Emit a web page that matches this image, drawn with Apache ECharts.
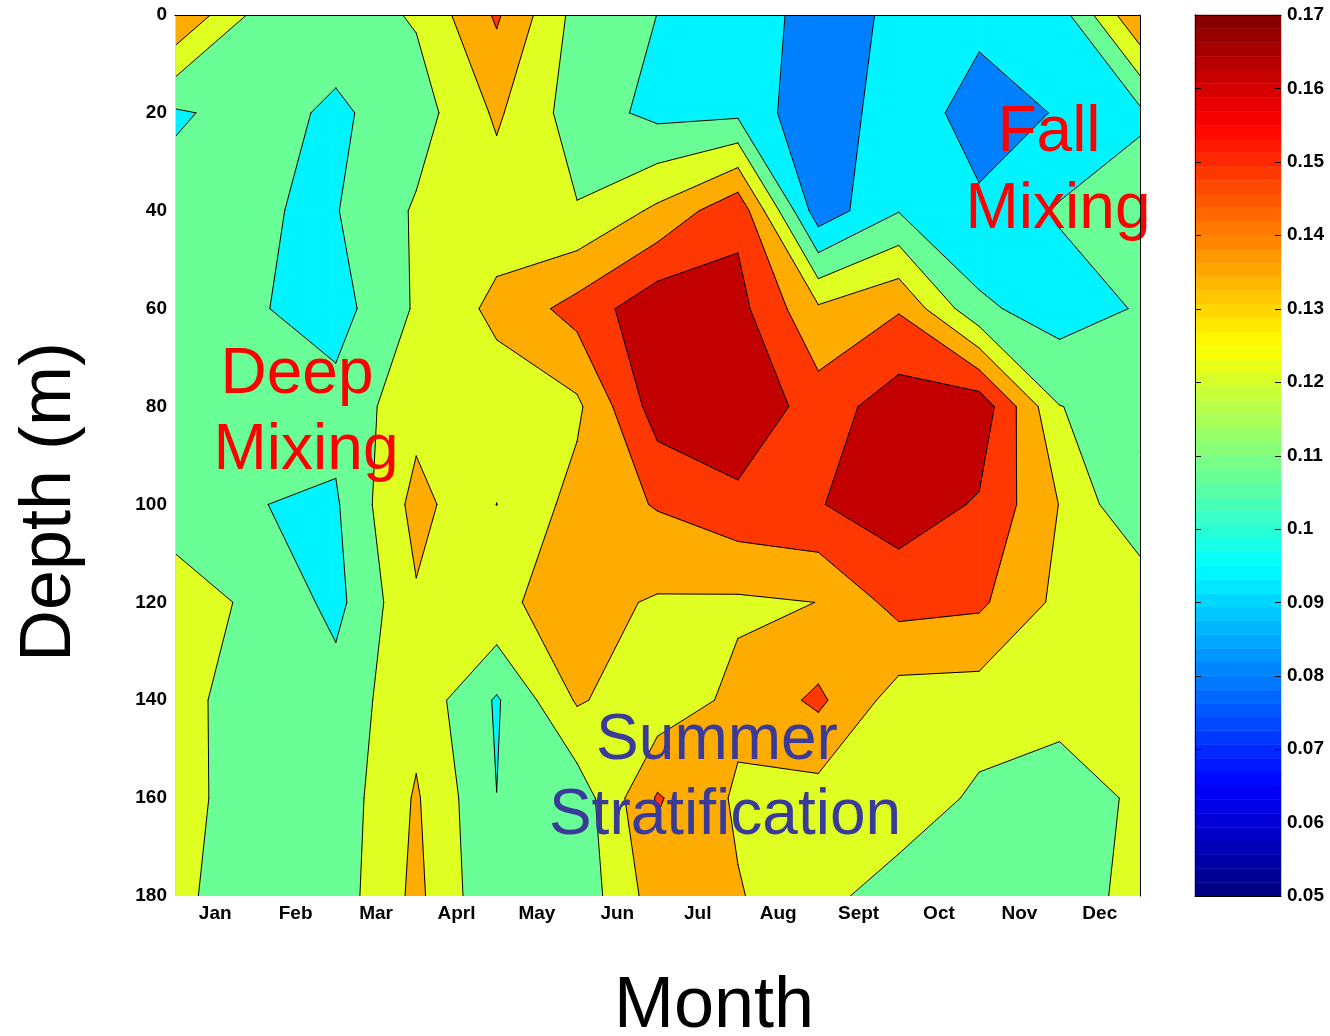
<!DOCTYPE html>
<html>
<head>
<meta charset="utf-8">
<script src="https://cdn.jsdelivr.net/npm/echarts@6/dist/echarts.min.js"></script>
<style>
  html, body { margin: 0; padding: 0; background: #ffffff; }
  #chart { width: 1330px; height: 1036px; }
</style>
</head>
<body>
<div id="chart"></div>
<script>
// Month tick labels (label sits in the middle of each month band)
const months = ['Jan', 'Feb', 'Mar', 'Aprl', 'May', 'Jun', 'Jul', 'Aug', 'Sept', 'Oct', 'Nov', 'Dec'];

// Sampling positions along the month axis and sampling depths (m)
const gridX = [0.5, 1.5, 2.5, 3.5, 4.5, 5.5, 6.5, 7.5, 8.5, 9.5, 10.5, 11.5, 12.5];
const depths = [0, 20, 40, 60, 80, 100, 120, 140, 160, 180];

// Measured values, one row per depth, one column per sampling position
const at0m   = [0.1482, 0.1177, 0.1141, 0.1225, 0.1504, 0.1163, 0.1073, 0.1019, 0.0879, 0.0962, 0.0978, 0.1012, 0.1482];
const at20m  = [0.1056, 0.1125, 0.1051, 0.1149, 0.1369, 0.1145, 0.1036, 0.1044, 0.0827, 0.1030, 0.0869, 0.0948, 0.1044];
const at40m  = [0.1129, 0.1078, 0.1067, 0.1227, 0.1278, 0.1219, 0.1375, 0.1588, 0.0853, 0.1068, 0.0964, 0.1088, 0.1169];
const at60m  = [0.1142, 0.1086, 0.1019, 0.1227, 0.1382, 0.1536, 0.1718, 0.1667, 0.1369, 0.1473, 0.1100, 0.1010, 0.1085];
const at80m  = [0.1142, 0.1115, 0.1118, 0.1299, 0.1275, 0.1321, 0.1691, 0.1745, 0.1551, 0.1695, 0.1717, 0.1214, 0.1156];
const at100m = [0.1170, 0.1077, 0.1058, 0.1396, 0.1210, 0.1397, 0.1496, 0.1581, 0.1615, 0.1696, 0.1608, 0.1344, 0.1077];
const at120m = [0.1252, 0.1195, 0.1033, 0.1332, 0.1327, 0.1393, 0.1334, 0.1327, 0.1349, 0.1534, 0.1510, 0.1314, 0.1330];
const at140m = [0.1280, 0.1112, 0.1133, 0.1303, 0.1059, 0.1363, 0.1260, 0.1384, 0.1512, 0.1285, 0.1280, 0.1266, 0.1307];
const at160m = [0.1280, 0.1116, 0.1129, 0.1363, 0.1075, 0.1127, 0.1499, 0.1327, 0.1293, 0.1293, 0.1186, 0.1136, 0.1237];
const at180m = [0.1252, 0.1111, 0.1138, 0.1382, 0.1088, 0.1115, 0.1417, 0.1358, 0.1252, 0.1149, 0.1142, 0.1142, 0.1255];
const field = [at0m, at20m, at40m, at60m, at80m, at100m, at120m, at140m, at160m, at180m];

// Contour levels and colour scale limits
const levels = [0.0937, 0.1074, 0.1211, 0.1348, 0.1485, 0.1622];
const lowestLevel = 0.08;
const colorMin = 0.05, colorMax = 0.17;
const barTicks = [0.05, 0.06, 0.07, 0.08, 0.09, 0.10, 0.11, 0.12, 0.13, 0.14, 0.15, 0.16, 0.17];

// Jet colour map
function jet(t) {
  const c = v => Math.max(0, Math.min(1, v));
  const r = c(1.5 - Math.abs(4 * t - 3));
  const g = c(1.5 - Math.abs(4 * t - 2));
  const b = c(1.5 - Math.abs(4 * t - 1));
  return 'rgb(' + Math.round(r * 255) + ',' + Math.round(g * 255) + ',' + Math.round(b * 255) + ')';
}
const toT = v => (v - colorMin) / (colorMax - colorMin);
const bandColors = [lowestLevel].concat(levels).map(v => jet(toT(v)));

// ---- marching squares helpers ----
function cellCorners(k, j) {
  return [
    { x: gridX[k],     y: depths[j],     v: field[j][k] },
    { x: gridX[k + 1], y: depths[j],     v: field[j][k + 1] },
    { x: gridX[k + 1], y: depths[j + 1], v: field[j + 1][k + 1] },
    { x: gridX[k],     y: depths[j + 1], v: field[j + 1][k] }
  ];
}
function cross(p, q, t) {
  const f = (t - p.v) / (q.v - p.v);
  return [p.x + f * (q.x - p.x), p.y + f * (q.y - p.y)];
}
// Region of one cell where the value is at or above t
function bandPolygons(k, j, t) {
  const c = cellCorners(k, j);
  const up = c.map(p => p.v >= t);
  const n = up.filter(Boolean).length;
  if (n === 0) return [];
  const center = (c[0].v + c[1].v + c[2].v + c[3].v) / 4;
  const saddle = n === 2 && up[0] === up[2];
  if (saddle && center < t) {
    const polys = [];
    for (let i = 0; i < 4; i++) {
      if (!up[i]) continue;
      const prev = c[(i + 3) % 4], next = c[(i + 1) % 4];
      polys.push([[c[i].x, c[i].y], cross(c[i], next, t), cross(prev, c[i], t)]);
    }
    return polys;
  }
  const pts = [];
  for (let i = 0; i < 4; i++) {
    const a = c[i], b = c[(i + 1) % 4];
    if (up[i]) pts.push([a.x, a.y]);
    if (up[i] !== up[(i + 1) % 4]) pts.push(cross(a, b, t));
  }
  return [pts];
}
// Contour segments of one cell for level t
function isoSegments(k, j, t) {
  const c = cellCorners(k, j);
  const up = c.map(p => p.v >= t);
  const edges = [];
  for (let i = 0; i < 4; i++) if (up[i] !== up[(i + 1) % 4]) edges.push(i);
  if (edges.length === 2) {
    return [[cross(c[edges[0]], c[(edges[0] + 1) % 4], t), cross(c[edges[1]], c[(edges[1] + 1) % 4], t)]];
  }
  if (edges.length === 4) {
    const cUp = (c[0].v + c[1].v + c[2].v + c[3].v) / 4 >= t;
    const segs = [];
    for (let i = 0; i < 4; i++) {
      if (up[i] === cUp) continue;
      segs.push([cross(c[i], c[(i + 1) % 4], t), cross(c[(i + 3) % 4], c[i], t)]);
    }
    return segs;
  }
  return [];
}

const cells = [];
for (let j = 0; j < depths.length - 1; j++) {
  for (let k = 0; k < gridX.length - 1; k++) cells.push([k, j]);
}

const bold = { fontFamily: 'Liberation Sans, Arial, sans-serif', fontWeight: 'bold', color: '#000' };

// Base fill, lowest band
const series = [{
  type: 'custom', coordinateSystem: 'cartesian2d', xAxisIndex: 0, yAxisIndex: 0,
  silent: true, z: 1, data: [[0, 0]],
  renderItem: (params, api) => {
    const a = api.coord([gridX[0], depths[0]]);
    const b = api.coord([gridX[gridX.length - 1], depths[depths.length - 1]]);
    return { type: 'rect', shape: { x: a[0], y: a[1], width: b[0] - a[0], height: b[1] - a[1] },
             style: { fill: bandColors[0] } };
  }
}];

// Filled bands, one series per level so higher bands sit on top
levels.forEach((t, i) => {
  const color = bandColors[i + 1];
  series.push({
    type: 'custom', coordinateSystem: 'cartesian2d', xAxisIndex: 0, yAxisIndex: 0,
    silent: true, clip: true, z: 1, data: cells,
    renderItem: (params, api) => {
      const polys = bandPolygons(api.value(0), api.value(1), t);
      return {
        type: 'group',
        children: polys.map(pts => ({
          type: 'polygon',
          shape: { points: pts.map(p => api.coord(p)) },
          style: { fill: color, stroke: color, lineWidth: 0.8 }
        }))
      };
    }
  });
});

// Contour lines
series.push({
  type: 'custom', coordinateSystem: 'cartesian2d', xAxisIndex: 0, yAxisIndex: 0,
  silent: true, clip: true, z: 2, data: cells,
  renderItem: (params, api) => {
    const children = [];
    levels.forEach(t => {
      isoSegments(api.value(0), api.value(1), t).forEach(seg => {
        children.push({
          type: 'polyline',
          shape: { points: seg.map(p => api.coord(p)) },
          style: { stroke: '#000', lineWidth: 1, fill: null, lineCap: 'round' }
        });
      });
    });
    return { type: 'group', children };
  }
});

// Colour bar: 64 steps of the jet map
const barSteps = [];
for (let i = 0; i < 64; i++) barSteps.push([i]);
series.push({
  type: 'custom', coordinateSystem: 'cartesian2d', xAxisIndex: 2, yAxisIndex: 2,
  silent: true, z: 1, data: barSteps,
  renderItem: (params, api) => {
    const i = api.value(0);
    const lo = colorMin + (colorMax - colorMin) * i / 64;
    const hi = colorMin + (colorMax - colorMin) * (i + 1) / 64;
    const a = api.coord([0, hi]);
    const b = api.coord([1, lo]);
    const col = jet((i + 0.5) / 64);
    return { type: 'rect', shape: { x: a[0], y: a[1], width: b[0] - a[0], height: b[1] - a[1] },
             style: { fill: col, stroke: col, lineWidth: 0.5 } };
  }
});

// Colour bar tick marks, pointing inward from both edges
series.push({
  type: 'custom', coordinateSystem: 'cartesian2d', xAxisIndex: 2, yAxisIndex: 2,
  silent: true, z: 3, data: barTicks.map(v => [0, v]),
  renderItem: (params, api) => {
    const l = api.coord([0, api.value(1)]);
    const r = api.coord([1, api.value(1)]);
    const y = Math.round(l[1]) + 0.5;
    return {
      type: 'group',
      children: [
        { type: 'line', shape: { x1: l[0], y1: y, x2: l[0] + 6, y2: y }, style: { stroke: '#000', lineWidth: 1 } },
        { type: 'line', shape: { x1: r[0] - 6, y1: y, x2: r[0], y2: y }, style: { stroke: '#000', lineWidth: 1 } }
      ]
    };
  }
});

const noSplit = { show: false };
const tickFont = 19;
const option = {
  animation: false,
  grid: [
    { left: 175, top: 15, width: 965, height: 881, show: false },
    { left: 1195, top: 15, width: 86, height: 881, show: false }
  ],
  xAxis: [
    { gridIndex: 0, type: 'value', min: 0.5, max: 12.5, position: 'top', z: 10,
      axisLine: { show: true, lineStyle: { color: '#d4d4d4', width: 1 } },
      axisTick: { show: false }, axisLabel: { show: false }, splitLine: noSplit },
    { gridIndex: 0, type: 'category', data: months, position: 'bottom', boundaryGap: true, z: 10,
      axisLine: { show: true, lineStyle: { color: '#000', width: 1 } },
      axisTick: { show: false }, splitLine: noSplit,
      axisLabel: Object.assign({ fontSize: tickFont, margin: 8 }, bold) },
    { gridIndex: 1, type: 'value', min: 0, max: 1, position: 'bottom', z: 10,
      axisLine: { show: true, lineStyle: { color: '#000' } },
      axisTick: { show: false }, axisLabel: { show: false }, splitLine: noSplit },
    { gridIndex: 1, type: 'value', min: 0, max: 1, position: 'top', z: 10,
      axisLine: { show: true, lineStyle: { color: '#000' } },
      axisTick: { show: false }, axisLabel: { show: false }, splitLine: noSplit }
  ],
  yAxis: [
    { gridIndex: 0, type: 'value', inverse: true, min: 0, max: 180, interval: 20, position: 'left', z: 10,
      axisLine: { show: true, lineStyle: { color: '#d4d4d4' } }, axisTick: { show: false }, splitLine: noSplit,
      axisLabel: Object.assign({ fontSize: tickFont, margin: 8 }, bold) },
    { gridIndex: 0, type: 'value', inverse: true, min: 0, max: 180, interval: 20, position: 'right', z: 10,
      axisLine: { show: true, lineStyle: { color: '#000' } }, axisTick: { show: false },
      axisLabel: { show: false }, splitLine: noSplit },
    { gridIndex: 1, type: 'value', min: colorMin, max: colorMax, interval: 0.01, position: 'right', z: 10,
      axisLine: { show: true, lineStyle: { color: '#000' } },
      axisTick: { show: false }, splitLine: noSplit,
      axisLabel: Object.assign({ fontSize: tickFont, margin: 6, formatter: v => String(+v.toFixed(2)) }, bold) },
    { gridIndex: 1, type: 'value', min: colorMin, max: colorMax, interval: 0.01, position: 'left', z: 10,
      axisLine: { show: true, lineStyle: { color: '#000' } },
      axisTick: { show: false }, axisLabel: { show: false }, splitLine: noSplit }
  ],
  graphic: [
    { type: 'text', x: 50, y: 502, rotation: Math.PI / 2, z: 10,
      style: { text: 'Depth (m)', font: '72px Liberation Sans, Arial, sans-serif', fill: '#000',
               align: 'center', verticalAlign: 'middle' } },
    { type: 'text', x: 714, y: 1007, z: 10,
      style: { text: 'Month', font: '72px Liberation Sans, Arial, sans-serif', fill: '#000',
               align: 'center', verticalAlign: 'middle' } },
    { type: 'text', x: 297, y: 375, z: 10,
      style: { text: 'Deep', font: '64px Liberation Sans, Arial, sans-serif', fill: '#ff0000',
               align: 'center', verticalAlign: 'middle' } },
    { type: 'text', x: 306, y: 451, z: 10,
      style: { text: 'Mixing', font: '64px Liberation Sans, Arial, sans-serif', fill: '#ff0000',
               align: 'center', verticalAlign: 'middle' } },
    { type: 'text', x: 1049, y: 133, z: 10,
      style: { text: 'Fall', font: '64px Liberation Sans, Arial, sans-serif', fill: '#ff0000',
               align: 'center', verticalAlign: 'middle' } },
    { type: 'text', x: 1058, y: 210, z: 10,
      style: { text: 'Mixing', font: '64px Liberation Sans, Arial, sans-serif', fill: '#ff0000',
               align: 'center', verticalAlign: 'middle' } },
    { type: 'text', x: 717, y: 741, z: 10,
      style: { text: 'Summer', font: '64px Liberation Sans, Arial, sans-serif', fill: '#3a3a9a',
               align: 'center', verticalAlign: 'middle' } },
    { type: 'text', x: 725, y: 816, z: 10,
      style: { text: 'Stratification', font: '64px Liberation Sans, Arial, sans-serif', fill: '#3a3a9a',
               align: 'center', verticalAlign: 'middle' } }
  ],
  series
};

const chart = echarts.init(document.getElementById('chart'), null, { renderer: 'canvas' });
chart.setOption(option);
</script>
</body>
</html>
